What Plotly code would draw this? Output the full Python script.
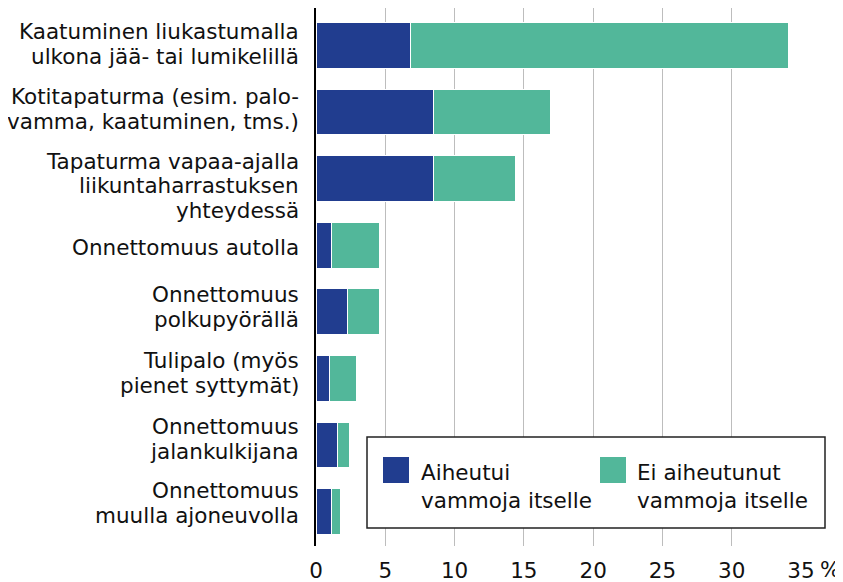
import plotly.graph_objects as go

categories = [
    "Kaatuminen liukastumalla<br>ulkona jää- tai lumikelillä",
    "Kotitapaturma (esim. palo-<br>vamma, kaatuminen, tms.)",
    "Tapaturma vapaa-ajalla<br>liikuntaharrastuksen<br>yhteydessä",
    "Onnettomuus autolla",
    "Onnettomuus<br>polkupyörällä",
    "Tulipalo (myös<br>pienet syttymät)",
    "Onnettomuus<br>jalankulkijana",
    "Onnettomuus<br>muulla ajoneuvolla",
]
injured = [6.8, 8.5, 8.5, 1.1, 2.3, 1.0, 1.55, 1.1]
not_injured = [27.3, 8.4, 5.9, 3.5, 2.25, 1.95, 0.87, 0.7]
series_names = ["Aiheutui<br>vammoja itselle", "Ei aiheutunut<br>vammoja itselle"]
colors = ["#213d8f", "#52b79a"]
tick_vals = [0, 5, 10, 15, 20, 25, 30, 35]
tick_text = ["0", "5", "10", "15", "20", "25", "30", "35"]
unit_label = "%"

# ---- layout constants ----
FONT = "DejaVu Sans, Verdana, sans-serif"
FS = 21.5
TXT = "#111111"
# the page body has an 8px margin, so the figure is drawn 8px in from the window edges
PAGE_OFF = 8
WIN_W, WIN_H = 843, 582
W, H = WIN_W - PAGE_OFF, WIN_H - PAGE_OFF
# plot area in window pixels
WL, WR, WT, WB = 316, 801, 8, 546
L, R, T, B = WL - PAGE_OFF, WIN_W - WR, WT - PAGE_OFF, WIN_H - WB
LINE_H = 24.5
# vertical centre (window px) of each category's label block
label_centers = [45, 110, 187, 248, 308, 374, 440, 504]


def px(x):
    return (x - WL) / (WR - WL)


def py(y):
    return (WB - y) / (WB - WT)


fig = go.Figure()
ypos = list(range(len(categories)))
for vals, name, col in zip([injured, not_injured], series_names, colors):
    fig.add_trace(go.Bar(
        y=ypos, x=vals, orientation="h", name=name.replace("<br>", " "),
        marker=dict(color=col, line=dict(color="white", width=1)),
        showlegend=False, hoverinfo="x+name",
    ))

annotations = []
for cat, cy in zip(categories, label_centers):
    lines = cat.split("<br>")
    n = len(lines)
    for i, line in enumerate(lines):
        ly = cy + (i - (n - 1) / 2) * LINE_H - 1
        annotations.append(dict(
            text=line, xref="paper", yref="paper", x=px(301), y=py(ly),
            xanchor="right", yanchor="middle", showarrow=False,
            font=dict(size=FS, color=TXT, family=FONT),
        ))

shapes = [
    dict(type="rect", xref="paper", yref="paper", x0=px(367), x1=px(825), y0=py(528), y1=py(437),
         line=dict(color="#222", width=1.5), fillcolor="white", layer="above"),
    dict(type="rect", xref="paper", yref="paper", x0=px(383), x1=px(409), y0=py(483), y1=py(457),
         line=dict(width=0), fillcolor=colors[0], layer="above"),
    dict(type="rect", xref="paper", yref="paper", x0=px(600), x1=px(626), y0=py(483), y1=py(457),
         line=dict(width=0), fillcolor=colors[1], layer="above"),
]
for name, lx in zip(series_names, [419, 635]):
    annotations.append(dict(
        text=name, xref="paper", yref="paper", x=px(lx), y=py(486), xanchor="left",
        yanchor="middle", align="left", showarrow=False,
        font=dict(size=FS, color=TXT, family=FONT),
    ))
annotations.append(dict(
    text=unit_label, xref="paper", yref="paper", x=px(818), y=py(569), xanchor="left",
    yanchor="middle", showarrow=False, font=dict(size=FS, color=TXT, family=FONT),
))

fig.update_layout(
    width=W, height=H,
    margin=dict(l=L, r=R, t=T, b=B, pad=0),
    barmode="stack", bargap=0.315,
    plot_bgcolor="white", paper_bgcolor="white",
    font=dict(family=FONT, size=FS, color=TXT),
    shapes=shapes, annotations=annotations,
    xaxis=dict(range=[0, 35], tickvals=tick_vals, ticktext=tick_text,
               showgrid=True, gridcolor="#bdbdbd", gridwidth=1.3,
               zeroline=False, showline=False, ticks="", ticklabelstandoff=9,
               automargin=False, tickfont=dict(size=FS, color=TXT, family=FONT)),
    yaxis=dict(range=[7.518, -0.563], tickvals=ypos, showticklabels=False,
               showgrid=False, zeroline=False, showline=True, linecolor="#000", linewidth=2,
               ticks="", automargin=False),
)

fig.write_html("out.html")
